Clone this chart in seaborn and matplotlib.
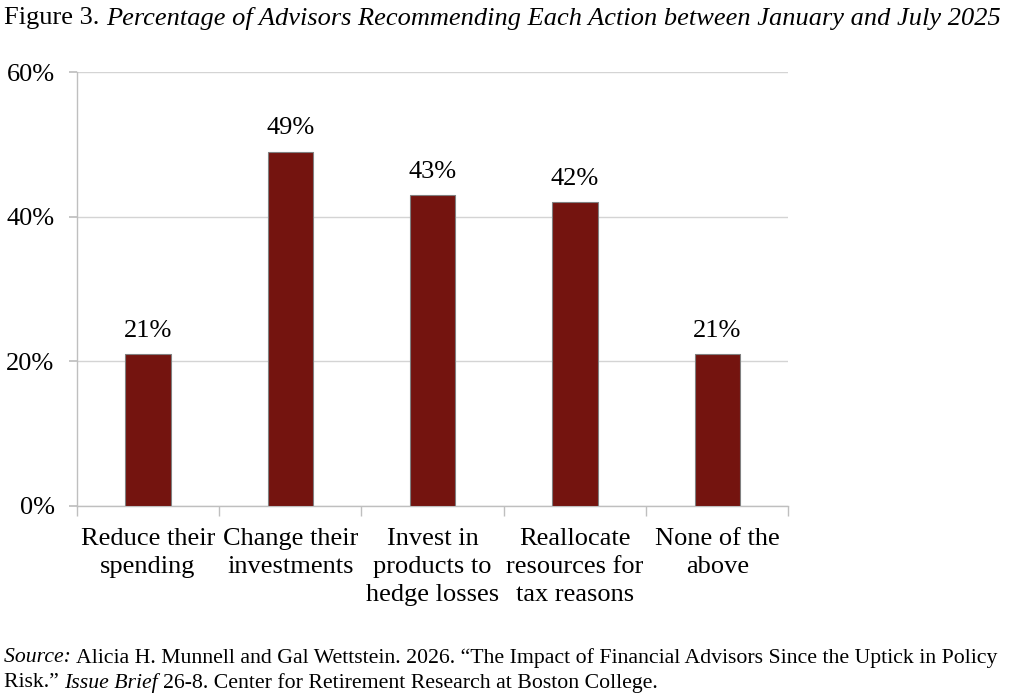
import numpy as np
import pandas as pd
import matplotlib
matplotlib.use("Agg")
import matplotlib.pyplot as plt
import seaborn as sns
from matplotlib.ticker import FixedLocator, PercentFormatter

# Data
actions = ["Reduce their\nspending", "Change their\ninvestments", "Invest in\nproducts to\nhedge losses",
           "Reallocate\nresources for\ntax reasons", "None of the\nabove"]
shares = [21, 49, 43, 42, 21]
y_ticks = [0, 20, 40, 60]

df = pd.DataFrame({"action": actions, "share": shares})

sns.set_theme(style="white")
plt.rcParams["font.family"] = ["Liberation Serif", "DejaVu Serif"]
plt.rcParams["text.color"] = "black"
plt.rcParams["xtick.color"] = "black"
plt.rcParams["ytick.color"] = "black"

fig = plt.figure(figsize=(10.24, 6.95), dpi=100)
ax = fig.add_axes([0.075, 0.272, 0.695, 0.624])

sns.barplot(data=df, x="action", y="share", color="#74140F", width=0.32,
            edgecolor="#808080", linewidth=0.8, ax=ax, zorder=3, saturation=1)

ax.set_ylim(0, 60)
ax.set_xlim(-0.5, len(actions) - 0.5)
ax.set_yticks(y_ticks)
ax.yaxis.set_major_formatter(PercentFormatter(decimals=0))
ax.yaxis.grid(True, color="#d4d4d4", linewidth=1, zorder=0)
ax.set_xlabel("")
ax.set_ylabel("")

for side in ["top", "right"]:
    ax.spines[side].set_visible(False)
for side in ["left", "bottom"]:
    ax.spines[side].set_color("#bfbfbf")
    ax.spines[side].set_linewidth(1)

ax.tick_params(axis="y", labelsize=19, length=6, color="#bfbfbf", pad=10, left=True, labelcolor="black")
ax.tick_params(axis="x", which="major", labelsize=19, length=0, pad=16, labelcolor="black")
ax.xaxis.set_minor_locator(FixedLocator(np.arange(-0.5, len(actions), 1.0)))
ax.tick_params(axis="x", which="minor", length=7, color="#bfbfbf", bottom=True)
for lab in ax.get_xticklabels():
    lab.set_linespacing(1.34)

for i, v in enumerate(shares):
    ax.annotate(f"{v}%", (i, v), xytext=(0, 9), textcoords="offset points",
                ha="center", va="bottom", fontsize=19)

renderer = fig.canvas.get_renderer()


def write_line(x, y, parts, size):
    # place text pieces one after another, each right where the last ended
    for text, style in parts:
        t = fig.text(x, y, text, fontsize=size, style=style, ha="left", va="top")
        bb = t.get_window_extent(renderer=renderer)
        x = bb.x1 / fig.bbox.width


write_line(0.004, 0.99, [("Figure 3. ", "normal"),
                         ("Percentage of Advisors Recommending Each Action between January and July 2025", "italic")], 19)

write_line(0.004, 0.068, [("Source: ", "italic"),
                          ("Alicia H. Munnell and Gal Wettstein. 2026. \u201cThe Impact of Financial Advisors Since the Uptick in Policy", "normal")], 15.7)
write_line(0.004, 0.031, [("Risk.\u201d ", "normal"), ("Issue Brief ", "italic"),
                          ("26-8. Center for Retirement Research at Boston College.", "normal")], 15.7)

fig.savefig("out.png", dpi=100)
